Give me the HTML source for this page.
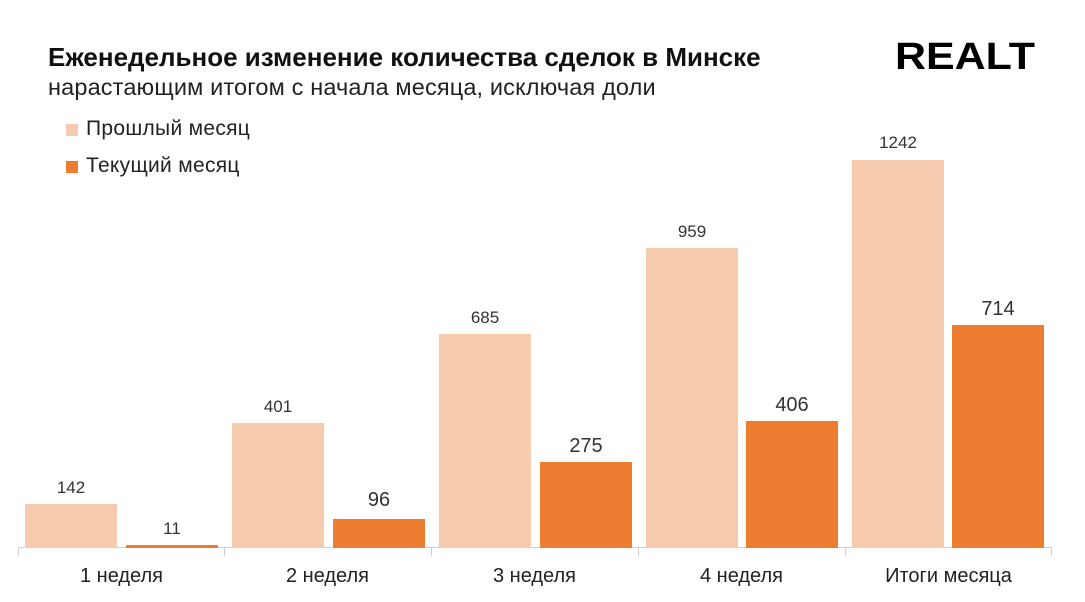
<!DOCTYPE html><html><head><meta charset="utf-8"><style>
body{margin:0;width:1085px;height:602px;background:#fff;font-family:"Liberation Sans",sans-serif;position:relative;overflow:hidden}
div{position:absolute;white-space:nowrap}
.b{bottom:54px}
.l{background:#f7cbad}.d{background:#ed7d31}
.v{font-size:17px;color:#333;text-align:center;width:92px}
.c{font-size:20px;color:#222;text-align:center;width:207px;top:565px}
.t{width:1px;background:#d0d0d0;top:548px;height:8px}
</style></head><body>
<div style="left:48px;top:42px;font-size:26px;font-weight:bold;color:#111;letter-spacing:0px">Еженедельное изменение количества сделок в Минске</div>
<div style="left:48px;top:74px;font-size:23.5px;color:#222;letter-spacing:0.15px">нарастающим итогом с начала месяца, исключая доли</div>
<div style="left:895px;top:36px;font-size:38px;font-weight:900;letter-spacing:0px;color:#000;transform:scaleX(1.13);transform-origin:left">RЕALT</div>
<div style="left:66px;top:124px;width:12px;height:12px" class="l"></div>
<div style="left:86px;top:117px;font-size:21px;color:#222;letter-spacing:0.3px">Прошлый месяц</div>
<div style="left:66px;top:161px;width:12px;height:12px" class="d"></div>
<div style="left:86px;top:154px;font-size:21px;color:#222;letter-spacing:0.3px">Текущий месяц</div>
<div style="left:18px;top:547px;width:1034px;height:1px;background:#d0d0d0"></div>
<div class="t" style="left:18px"></div><div class="t" style="left:224px"></div><div class="t" style="left:431px"></div><div class="t" style="left:638px"></div><div class="t" style="left:845px"></div><div class="t" style="left:1051px"></div>
<div class="b l" style="left:25px;top:504px;width:92px"></div><div class="v" style="left:25px;top:478px">142</div>
<div class="b d" style="left:126px;top:545px;width:92px"></div><div class="v" style="left:126px;top:519px">11</div>
<div class="b l" style="left:232px;top:423px;width:92px"></div><div class="v" style="left:232px;top:397px">401</div>
<div class="b d" style="left:333px;top:519px;width:92px"></div><div class="v" style="left:333px;top:489px;font-size:20px">96</div>
<div class="b l" style="left:439px;top:334px;width:92px"></div><div class="v" style="left:439px;top:308px">685</div>
<div class="b d" style="left:540px;top:462px;width:92px"></div><div class="v" style="left:540px;top:435px;font-size:20px">275</div>
<div class="b l" style="left:646px;top:248px;width:92px"></div><div class="v" style="left:646px;top:222px">959</div>
<div class="b d" style="left:746px;top:421px;width:92px"></div><div class="v" style="left:746px;top:394px;font-size:20px">406</div>
<div class="b l" style="left:852px;top:160px;width:92px"></div><div class="v" style="left:852px;top:133px">1242</div>
<div class="b d" style="left:952px;top:325px;width:92px"></div><div class="v" style="left:952px;top:298px;font-size:20px">714</div>
<div class="c" style="left:18px">1 неделя</div><div class="c" style="left:224px">2 неделя</div><div class="c" style="left:431px">3 неделя</div><div class="c" style="left:638px">4 неделя</div><div class="c" style="left:845px">Итоги месяца</div>
</body></html>
